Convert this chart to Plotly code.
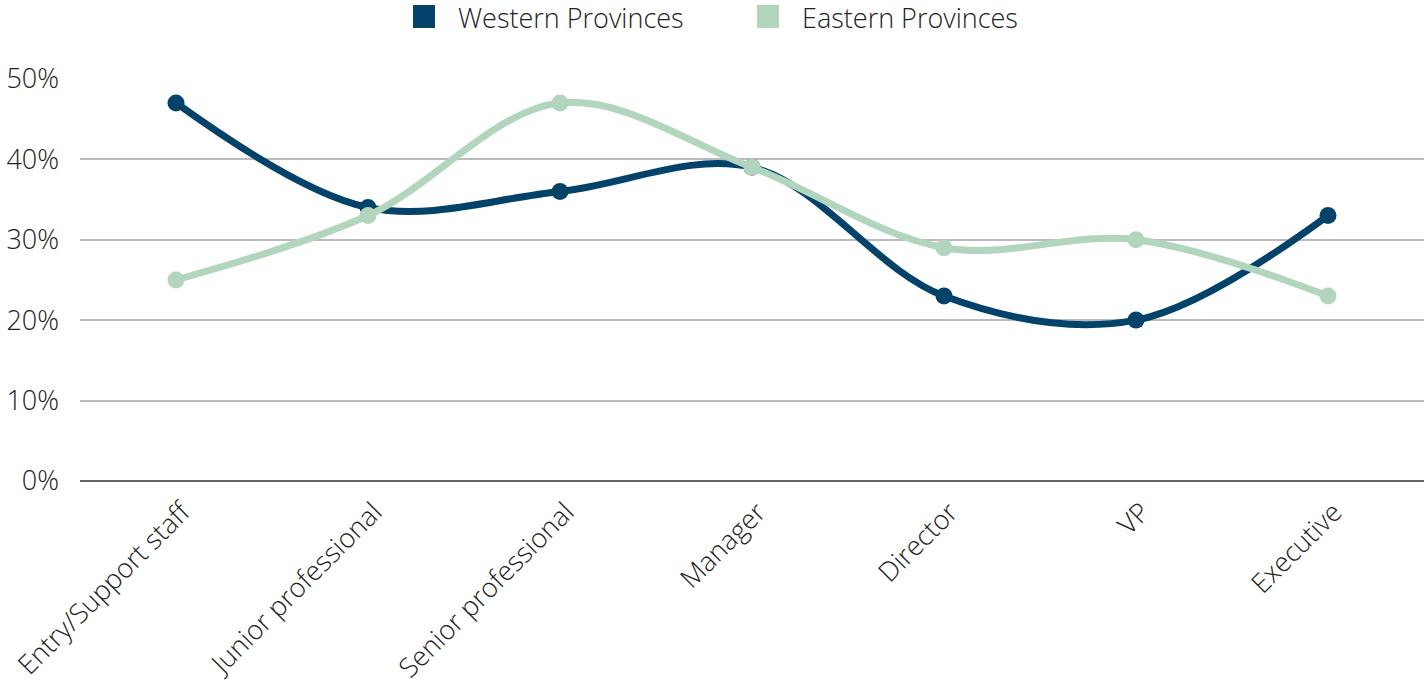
import plotly.graph_objects as go

categories = ["Entry/Support staff", "Junior professional", "Senior professional",
              "Manager", "Director", "VP", "Executive"]
western = [47, 34, 36, 39, 23, 20, 33]
eastern = [25, 33, 47, 39, 29, 30, 23]
y_ticks = [0, 10, 20, 30, 40, 50]
y_tick_labels = [f"{v}%" for v in y_ticks]
series_names = ["Western Provinces", "Eastern Provinces"]

WEST_COLOR = "#03436a"
EAST_COLOR = "#b2d5bd"
FONT = dict(family="Open Sans", size=27, color="#222222", weight=300)

# Plot-area geometry in pixels (used to place the custom legend)
W, H = 1426, 684
ML, MR, MT, MB = 80, 2, 78, 203
PW, PH = W - ML - MR, H - MT - MB


def px_x(p):
    return (p - ML) / PW


def px_y(p):
    return (H - MB - p) / PH


fig = go.Figure()

for name, values, color in [(series_names[0], western, WEST_COLOR),
                            (series_names[1], eastern, EAST_COLOR)]:
    fig.add_trace(go.Scatter(
        x=categories, y=values, name=name, mode="lines+markers",
        line=dict(color=color, width=7, shape="spline", smoothing=1),
        marker=dict(color=color, size=17),
        showlegend=False, hoverinfo="x+y",
    ))

# Legend: large square swatches with labels along the top
legend_items = [(series_names[0], WEST_COLOR, 413), (series_names[1], EAST_COLOR, 757)]
for name, color, left in legend_items:
    fig.add_shape(type="rect", xref="paper", yref="paper",
                  x0=px_x(left), x1=px_x(left + 22), y0=px_y(28), y1=px_y(5),
                  fillcolor=color, line=dict(width=0), layer="above")
    fig.add_annotation(text=name, xref="paper", yref="paper",
                       x=px_x(left + 44), y=px_y(18), xanchor="left", yanchor="middle",
                       showarrow=False, font=FONT, borderpad=0)

fig.update_layout(
    width=W, height=H,
    margin=dict(l=ML, r=MR, t=MT, b=MB, autoexpand=False),
    paper_bgcolor="white", plot_bgcolor="white",
    font=FONT,
    showlegend=False,
    xaxis=dict(type="category", tickangle=-45, showgrid=False, showline=False,
               zeroline=False, ticks="", ticklabelstandoff=9, ticklabelshift=6,
               automargin=False, tickfont=FONT, range=[-0.5, 6.5]),
    yaxis=dict(range=[0, 50.1], tickmode="array", tickvals=y_ticks,
               ticktext=y_tick_labels, automargin=False,
               showgrid=True, gridcolor="#bbbbbb", gridwidth=1.5,
               zeroline=True, zerolinecolor="#666666", zerolinewidth=2,
               showline=False, ticks="", ticklabelstandoff=20, tickfont=FONT),
)

fig.write_html("out.html")
